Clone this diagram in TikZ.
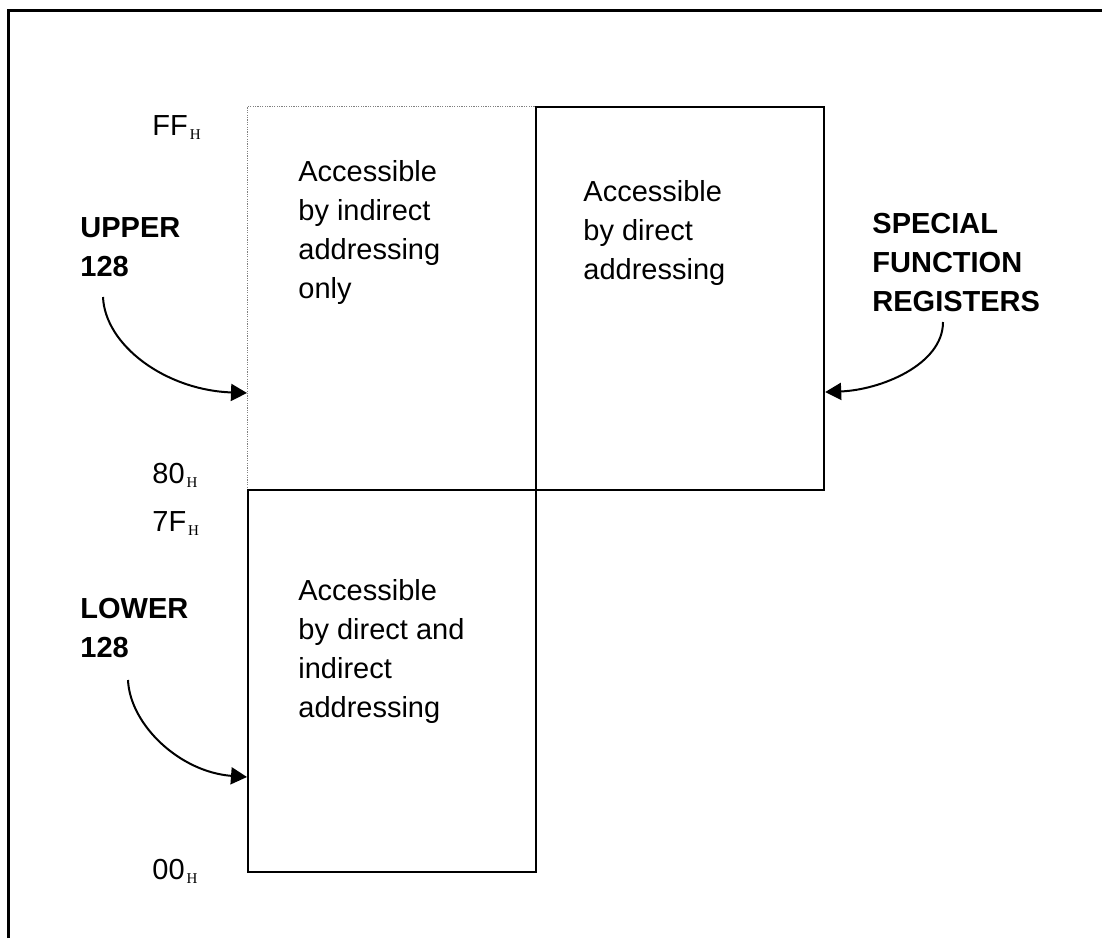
\documentclass[tikz,border=0pt]{standalone}
\usepackage{fontspec}
\setmainfont{Liberation Sans}
\newfontfamily\hexsubfont{Liberation Serif}
\usetikzlibrary{arrows.meta}
% small serif "H" that marks a hexadecimal address
\newcommand\hsub{{\hexsubfont\fontsize{7.5pt}{9pt}\selectfont\raisebox{-2pt}{H}}}
\begin{document}
\begin{tikzpicture}[x=0.5pt,y=-0.5pt,
  lbl/.style={inner sep=0pt, align=left, anchor=north west,
    font=\fontsize{14.5pt}{19.5pt}\selectfont},
  boldlbl/.style={lbl, font=\fontsize{14.5pt}{19.5pt}\selectfont\bfseries},
  hex/.style={inner sep=0pt, anchor=base west,
    font=\fontsize{14.5pt}{19.5pt}\selectfont},
  mem/.style={draw, line width=1.1pt, inner sep=0pt, anchor=north west},
  curl/.style={line width=1pt, -{Triangle[length=8pt,width=8.5pt]}}]
\useasboundingbox (0,0) rectangle (1102,938);
% frame
\draw[line width=1.5pt] (8,938) -- (8,10) -- (1102,10);

% memory blocks
\node[draw=gray, dash pattern=on 0.6pt off 0.6pt, line width=0.5pt, inner sep=0pt,
  anchor=north west, minimum width=144pt, minimum height=191.5pt] (upper) at (247,106) {};
\node[mem, minimum width=144pt, minimum height=191.5pt] (sfr) at (535,106) {};
\node[mem, minimum width=144pt, minimum height=191pt] (lower) at (247,489) {};

% texts inside the blocks
\node[lbl] (uppertext) at (298,160) {Accessible\\by indirect\\addressing\\only};
\node[lbl] (sfrtext) at (583,180) {Accessible\\by direct\\addressing};
\node[lbl] (lowertext) at (298,579) {Accessible\\by direct and\\indirect\\addressing};

% addresses
\node[hex] (aFF) at (152,135) {FF\kern1pt\hsub};
\node[hex] (a80) at (152,483) {80\kern1pt\hsub};
\node[hex] (a7F) at (152,531) {7F\kern1pt\hsub};
\node[hex] (a00) at (152,879) {00\kern1pt\hsub};

% region names
\node[boldlbl] (uplbl) at (80,217) {UPPER\\128};
\node[boldlbl] (lolbl) at (80,598) {LOWER\\128};
\node[boldlbl] (sflbl) at (872,213) {SPECIAL\\FUNCTION\\REGISTERS};

% pointers
\coordinate (upS) at (103,297);
\coordinate (upT) at (upper.west |- 0,393);
\coordinate (loS) at (128,680);
\coordinate (loT) at (lower.west |- 0,777);
\coordinate (sfS) at (943,322);
\coordinate (sfT) at (sfr.east |- 0,392);
\draw[curl] (upS) .. controls (105,345) and (165,390) .. (upT);
\draw[curl] (loS) .. controls (130,725) and (180,772) .. (loT);
\draw[curl] (sfS) .. controls (943,365) and (880,390) .. (sfT);
\end{tikzpicture}
\end{document}
